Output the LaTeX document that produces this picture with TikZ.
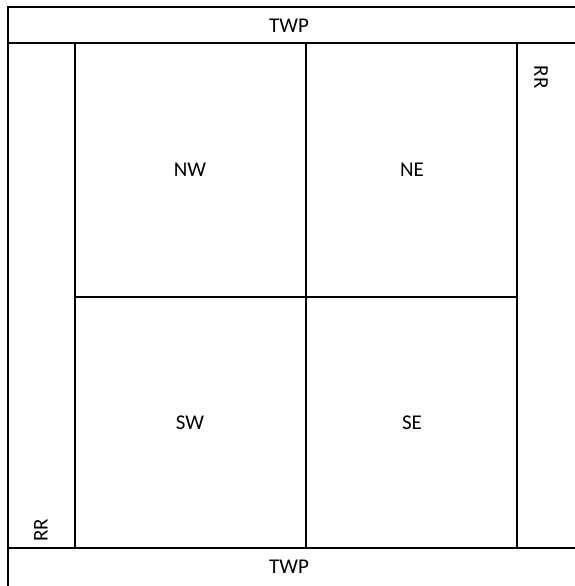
\documentclass[tikz,border=0pt]{standalone}
\usepackage{fontspec}
\setmainfont{Carlito}
\begin{document}
\begin{tikzpicture}[x=1pt,y=-1pt,line width=1.8pt,
  lbl/.style={font=\fontsize{21}{25}\selectfont,inner sep=0pt}]
\useasboundingbox (0,0) rectangle (575,586);
\clip (0,0) rectangle (575,586);

% outer frame (runs off the page at right and bottom)
\draw (8,586) -- (8,7) -- (575,7);
\draw (8,43) -- (575,43);
\draw (8,548) -- (575,548);

% inner square and quadrants
\draw (75,43) -- (75,548);
\draw (517,43) -- (517,548);
\draw (306,43) -- (306,548);
\draw (75,297) -- (517,297);

\node[lbl] (twptop) at (289,26) {TWP};
\node[lbl] (twpbot) at (289,567) {TWP};
\node[lbl,rotate=-90] (rrright) at (541,77) {RR};
\node[lbl,rotate=90] (rrleft) at (41,530) {RR};

\node[lbl] (nw) at (190,170) {NW};
\node[lbl] (ne) at (412,170) {NE};
\node[lbl] (sw) at (190,423) {SW};
\node[lbl] (se) at (412,423) {SE};
\end{tikzpicture}
\end{document}
